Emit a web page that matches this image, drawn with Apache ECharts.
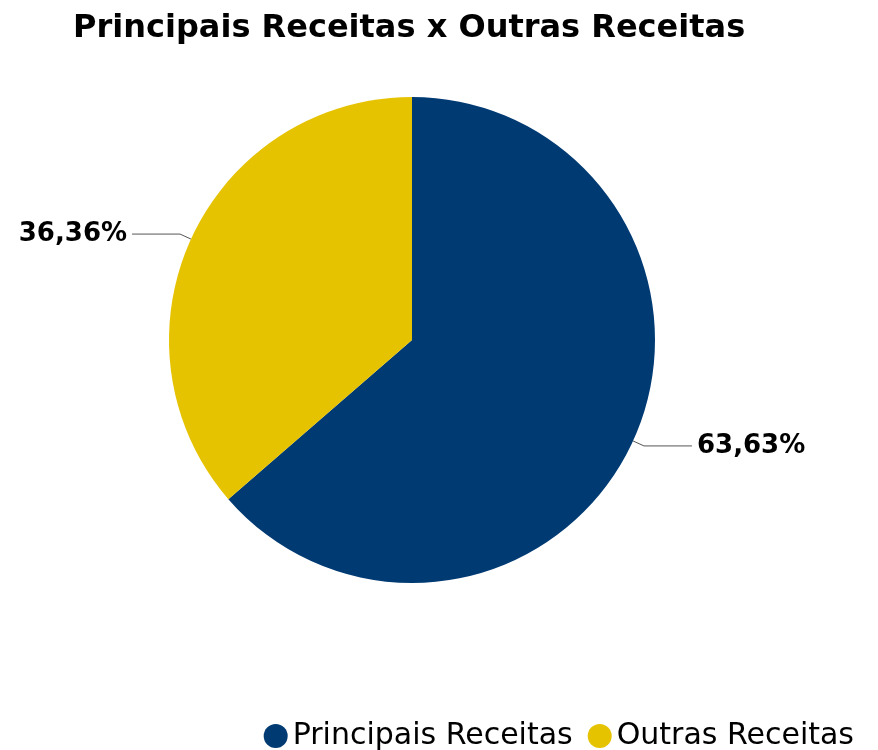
<!DOCTYPE html>
<html><head><meta charset="utf-8">
<script src="https://cdn.jsdelivr.net/npm/echarts@6/dist/echarts.min.js"></script>
<style>html,body{margin:0;padding:0;background:#fff}#c{width:878px;height:750px}</style>
</head><body><div id="c"></div>
<script>
const categories = ['Principais Receitas', 'Outras Receitas'];
const values = [63.63, 36.36];
const colors = ['#003a73', '#e6c300'];

const chart = echarts.init(document.getElementById('c'), null, {renderer: 'canvas'});
chart.setOption({
  animation: false,
  backgroundColor: '#ffffff',
  color: colors,
  title: {
    text: 'Principais Receitas x Outras Receitas',
    left: 68, top: 8,
    textStyle: {fontFamily: 'DejaVu Sans', fontWeight: 'bold', fontSize: 32, color: '#000'}
  },
  legend: {
    data: categories,
    right: 19, bottom: -6,
    icon: 'circle', itemWidth: 24, itemHeight: 24, itemGap: 15,
    textStyle: {fontFamily: 'DejaVu Sans', fontSize: 30, color: '#000'}
  },
  series: [{
    type: 'pie',
    center: [412, 340],
    radius: [0, 243],
    startAngle: 90,
    clockwise: true,
    data: categories.map((c, i) => ({name: c, value: values[i]})),
    label: {
      show: true,
      formatter: p => p.value.toFixed(2).replace('.', ',') + '%',
      fontFamily: 'DejaVu Sans', fontWeight: 'bold', fontSize: 26, color: '#000'
    },
    labelLine: {show: true, length: 12, length2: 48, lineStyle: {color: '#555', width: 1}},
    itemStyle: {borderWidth: 0}
  }]
});
</script></body></html>
